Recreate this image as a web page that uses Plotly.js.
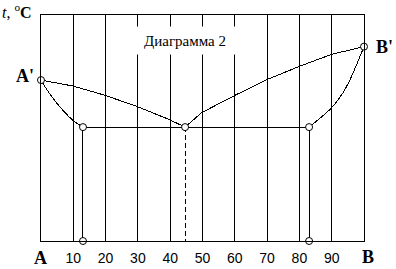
<!DOCTYPE html>
<html><head><meta charset="utf-8">
<script src="https://cdn.plot.ly/plotly-3.0.1.min.js"></script>
<style>html,body{margin:0;padding:0;background:#fff}#plot{width:396px;height:269px}
#plot path.js-line{shape-rendering:crispEdges}</style>
</head><body><div id="plot"></div>
<script>
// composition (% B) and temperature (relative units)
const tA = 71.2, tB = 86.0, tE = 50.4;
const xE = 44.6, xSolA = 13, xSolB = 83;
const liqLeftX = [0, 9.8, 19.5, 29.4, 39.6, 44.6];
const liqLeftY = [71.2, 68.6, 64.6, 59.7, 53.8, 50.4];
const solLeftX = [0, 1.5, 4.6, 9.8, 13];
const solLeftY = [71.2, 67.7, 61.5, 53.5, 50.4];
const liqRightX = [44.6, 49.75, 60.1, 70.1, 80.2, 90, 100];
const liqRightY = [50.4, 56.8, 64.5, 71.5, 77.4, 82.6, 86.0];
const solRightX = [83, 90, 93.5, 95.7, 100];
const solRightY = [50.4, 59.0, 65.6, 71.5, 86.0];
const tickVals = [10, 20, 30, 40, 50, 60, 70, 80, 90];
const tickText = ['10', '20', '30', '40', '50', '60', '70', '80', '90'];
const endLabels = ['A', 'B'];
const endVals = [0, 100];
const topLabels = ["A'", "B'"];
const titleText = 'Диаграмма 2';

const thin = {color: '#000', width: 1};
const traces = [
  {x: liqLeftX, y: liqLeftY, mode: 'lines', line: thin},
  {x: solLeftX, y: solLeftY, mode: 'lines', line: {color:'#000', width:1, shape:'spline'}},
  {x: liqRightX, y: liqRightY, mode: 'lines', line: thin},
  {x: solRightX, y: solRightY, mode: 'lines', line: {color:'#000', width:1, shape:'spline'}},
  {x: [xSolA, xSolB], y: [tE, tE], mode: 'lines', line: thin},
  {x: [xSolA, xSolA], y: [tE, 0], mode: 'lines', line: thin},
  {x: [xSolB, xSolB], y: [tE, 0], mode: 'lines', line: thin},
  {x: [xE, xE], y: [tE, 0], mode: 'lines', line: {color:'#000', width:1, dash:'5px,3px'}},
  {x: [0, xSolA, xE, xSolB, 100, xSolA, xSolB], y: [tA, tE, tE, tE, tB, 0, 0], mode: 'markers',
   marker: {symbol: 'circle', size: 7, color: '#fff', line: {color: '#000', width: 1}}, cliponaxis: false}
];

const serif = 'Liberation Serif, Times New Roman, serif';
const annotations = [
  {xref:'x', yref:'y', x: xE, y: 88.7, text: titleText, showarrow:false, bgcolor:'#fff',
   width: 118, height: 25, font:{family: serif, size: 15, color:'#000'}},
  {xref:'x', yref:'paper', x: endVals[0], y: -0.077, text: '<b>'+endLabels[0]+'</b>', showarrow:false,
   xshift: -1, yanchor:'middle', font:{family: serif, size: 18, color:'#000'}},
  {xref:'x', yref:'paper', x: endVals[1], y: -0.073, text: '<b>'+endLabels[1]+'</b>', showarrow:false,
   xshift: 4, yanchor:'middle', font:{family: serif, size: 18, color:'#000'}},
  {xref:'x', yref:'y', x: 0, y: tA, text: '<b>'+topLabels[0]+'</b>', showarrow:false,
   xanchor:'right', xshift: -5, yshift: 4, font:{family: serif, size: 18, color:'#000'}},
  {xref:'x', yref:'y', x: 100, y: tB, text: '<b>'+topLabels[1]+'</b>', showarrow:false,
   xanchor:'left', xshift: 10, yshift: 0, font:{family: serif, size: 18, color:'#000'}},
  {xref:'paper', yref:'paper', x: -41/323, y: 1, text: '<i>t</i>, <sup>o</sup><b>C</b>', showarrow:false,
   xanchor:'left', yanchor:'middle', yshift: 4, font:{family: serif, size: 16, color:'#000'}}
];

const layout = {
  width: 396, height: 269,
  margin: {l: 41, r: 32, t: 15, b: 28, pad: 0},
  paper_bgcolor: '#fff', plot_bgcolor: '#fff',
  showlegend: false,
  xaxis: {range: [0, 100], tickvals: tickVals, ticktext: tickText, ticks: '',
          showgrid: true, gridcolor: '#000', gridwidth: 1, zeroline: false,
          showline: true, linecolor: '#000', linewidth: 1, mirror: true,
          ticklabelstandoff: 4,
          tickfont: {family: 'Liberation Sans, Arial, sans-serif', size: 14, color: '#000'},
          fixedrange: true},
  yaxis: {range: [0, 100], showticklabels: false, ticks: '', showgrid: false, zeroline: false,
          showline: true, linecolor: '#000', linewidth: 1, mirror: true, fixedrange: true},
  annotations: annotations
};
Plotly.newPlot('plot', traces, layout, {staticPlot: true, displayModeBar: false});
</script></body></html>
